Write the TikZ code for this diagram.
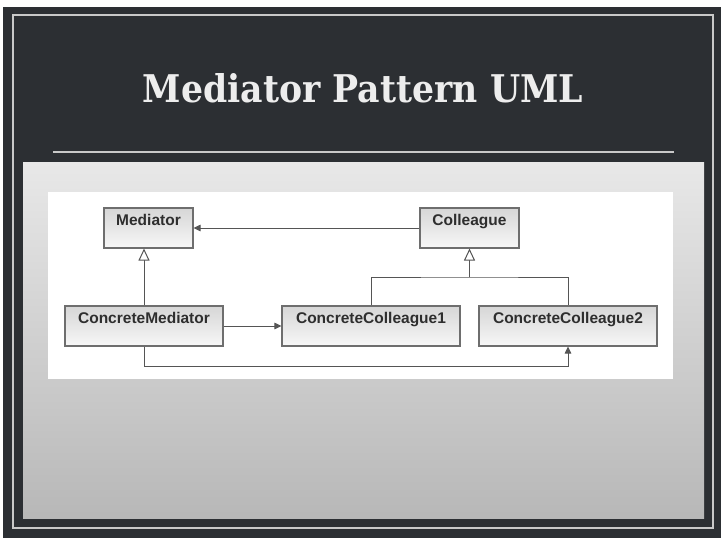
\documentclass[tikz,border=0pt]{standalone}
\usepackage{fontspec}
\setmainfont{DejaVu Serif}
\newfontfamily\boxfont{Liberation Sans}
\newfontfamily\titlefont{DejaVu Serif}
\usetikzlibrary{arrows.meta}
\definecolor{board}{HTML}{2C2F33}
\definecolor{chalk}{HTML}{C9C9C9}
\definecolor{umlline}{HTML}{555555}
\definecolor{umlborder}{HTML}{6E6E6E}
\definecolor{umltext}{HTML}{2E2E2E}
\tikzset{
  chalkline/.style={draw=chalk, line width=1.4pt},
  umlbox/.style={draw=umlborder, line width=1.1pt, top color=black!16, bottom color=black!3,
    minimum height=40pt, inner xsep=0pt, inner ysep=6pt, text height=11pt, text depth=17pt,
    font=\boxfont\bfseries\fontsize{15.5pt}{17pt}\selectfont, text=umltext},
  wire/.style={draw=umlline, line width=1pt},
  assoc/.style={wire, -{Triangle[length=7pt,width=6.5pt]}},
  inherit/.style={wire, -{Triangle[open,length=12pt,width=11pt,fill=white]}},
}
\begin{document}
\begin{tikzpicture}[x=1pt,y=-1pt]
\useasboundingbox (0,0) rectangle (724,541);
\fill[white] (0,0) rectangle (724,541);
\fill[board] (3,7) rectangle (721,538);
\draw[chalkline] (13,15) rectangle (713,528);
\node[anchor=base, text=black!7, inner sep=0pt] (title) at (363,102)
  {\resizebox{440pt}{29pt}{\titlefont\bfseries Mediator Pattern UML}};
\draw[chalkline] (53,152) -- (674,152);
\shade[top color=black!9, bottom color=black!28] (23,162) rectangle (704,518);
\fill[white] (48,192) rectangle (673,379);

\node[umlbox, minimum width=89pt] (med) at (148.5,228) {Mediator};
\node[umlbox, minimum width=99pt] (coll) at (469.5,228) {Colleague};
\node[umlbox, minimum width=158pt] (cm) at (144,326) {ConcreteMediator};
\node[umlbox, minimum width=178pt] (cc1) at (371,326) {ConcreteColleague1};
\node[umlbox, minimum width=178pt] (cc2) at (568,326) {ConcreteColleague2};

\coordinate (bus) at (469.5,277);
\draw[assoc] (coll) -- (med);
\draw[assoc] (cm) -- (cc1);
\draw[inherit] (cm.north) -- (cm.north |- med.south);
\draw[wire] (cc1.north) |- (bus) -| (cc2.north);
\draw[inherit] (bus) -- (coll.south);
\draw[assoc] (cm.south) -- ++(0,20) -| (cc2.south);
\end{tikzpicture}
\end{document}
